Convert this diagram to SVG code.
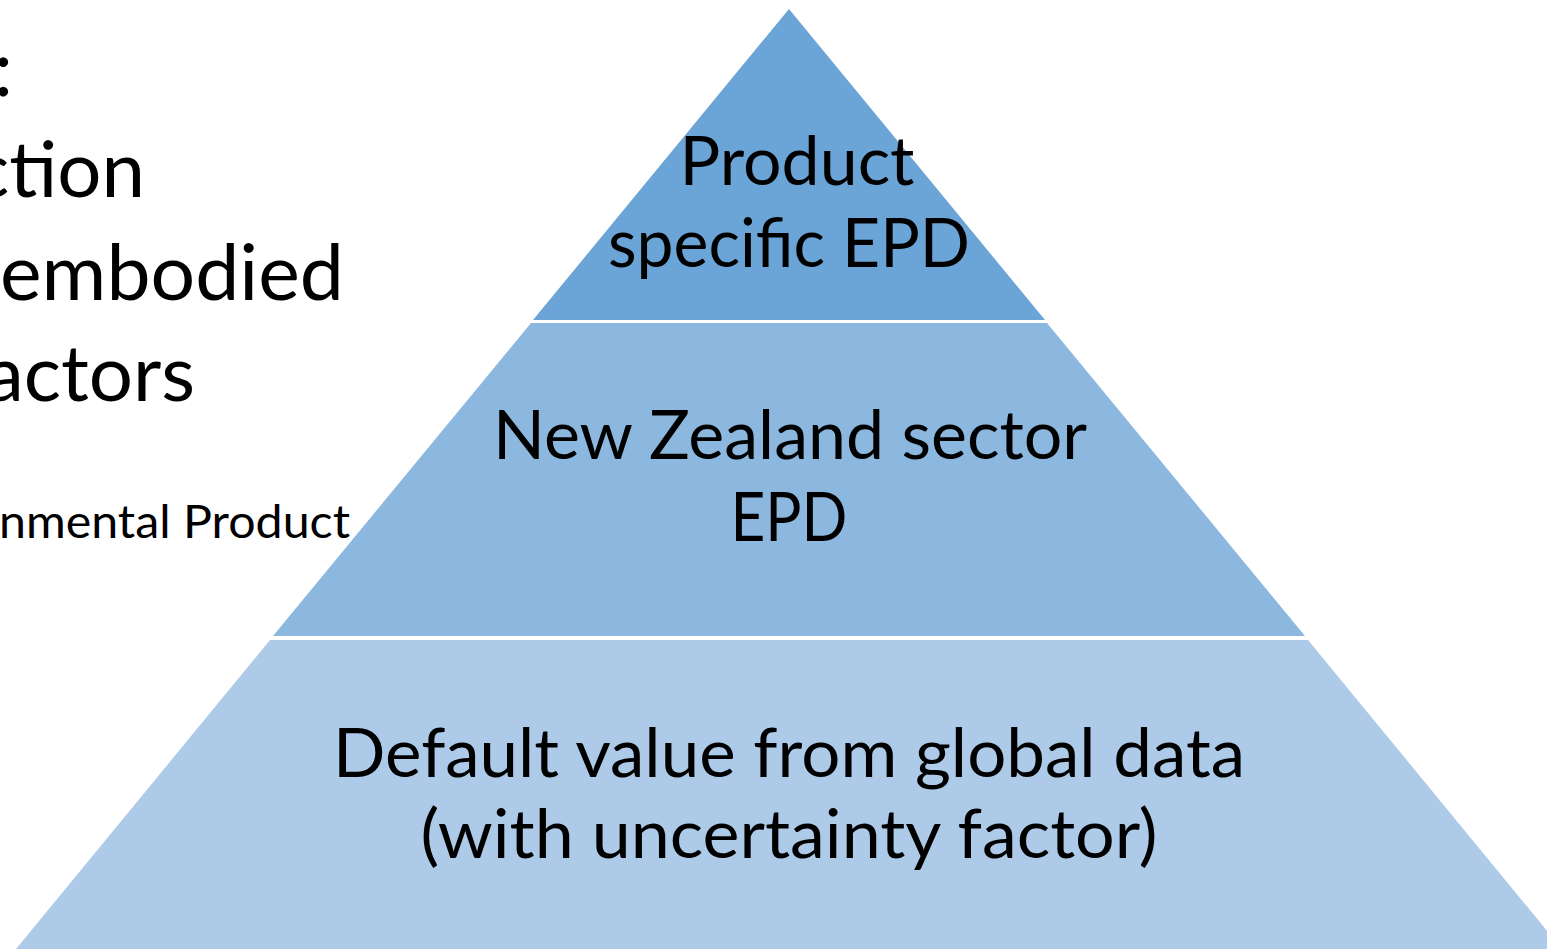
<svg xmlns="http://www.w3.org/2000/svg" width="1547" height="949" viewBox="0 0 1547 949">
<style>
  .t { font-family: Lato, "Open Sans", "Liberation Sans", sans-serif; fill: #000; }
  .big { font-size: 68px; text-anchor: middle; }
  .side { font-size: 78px; text-anchor: end; }
  .small { font-size: 47px; }
  .tier { stroke: none; }
</style>
<rect width="1547" height="949" fill="#fff"/>
<g id="left-text">
  <text class="t side" x="13" y="96">:</text>
  <text class="t side" x="145" y="197">ction</text>
  <text class="t" style="font-size:78px" x="0" y="300" textLength="344" lengthAdjust="spacingAndGlyphs">embodied</text>
  <text class="t side" x="195" y="401">actors</text>
  <text class="t small" x="-1" y="538" textLength="351" lengthAdjust="spacingAndGlyphs">nmental Product</text>
</g>
<g id="tier-bottom">
  <polygon class="tier" points="270,640 1308,640 1562,949 16,949" fill="#adcbe8"/>
  <text class="t big" x="789" y="777" textLength="912" lengthAdjust="spacingAndGlyphs">Default value from global data</text>
  <text class="t big" x="789" y="858" textLength="737" lengthAdjust="spacingAndGlyphs">(with uncertainty factor)</text>
</g>
<g id="tier-middle">
  <polygon class="tier" points="531,323 1047,323 1305,636 273,636" fill="#8cb8e0"/>
  <text class="t big" x="790" y="459" textLength="594" lengthAdjust="spacingAndGlyphs">New Zealand sector</text>
  <text class="t big" x="789" y="541" textLength="117" lengthAdjust="spacingAndGlyphs">EPD</text>
</g>
<g id="tier-top">
  <polygon class="tier" points="789,9 1045,320 533,320" fill="#6ba4d7"/>
  <text class="t big" x="797" y="185" textLength="235" lengthAdjust="spacingAndGlyphs">Product</text>
  <text class="t big" x="789" y="267" textLength="362" lengthAdjust="spacingAndGlyphs">specific EPD</text>
</g>
<g id="connectors"></g>
</svg>
